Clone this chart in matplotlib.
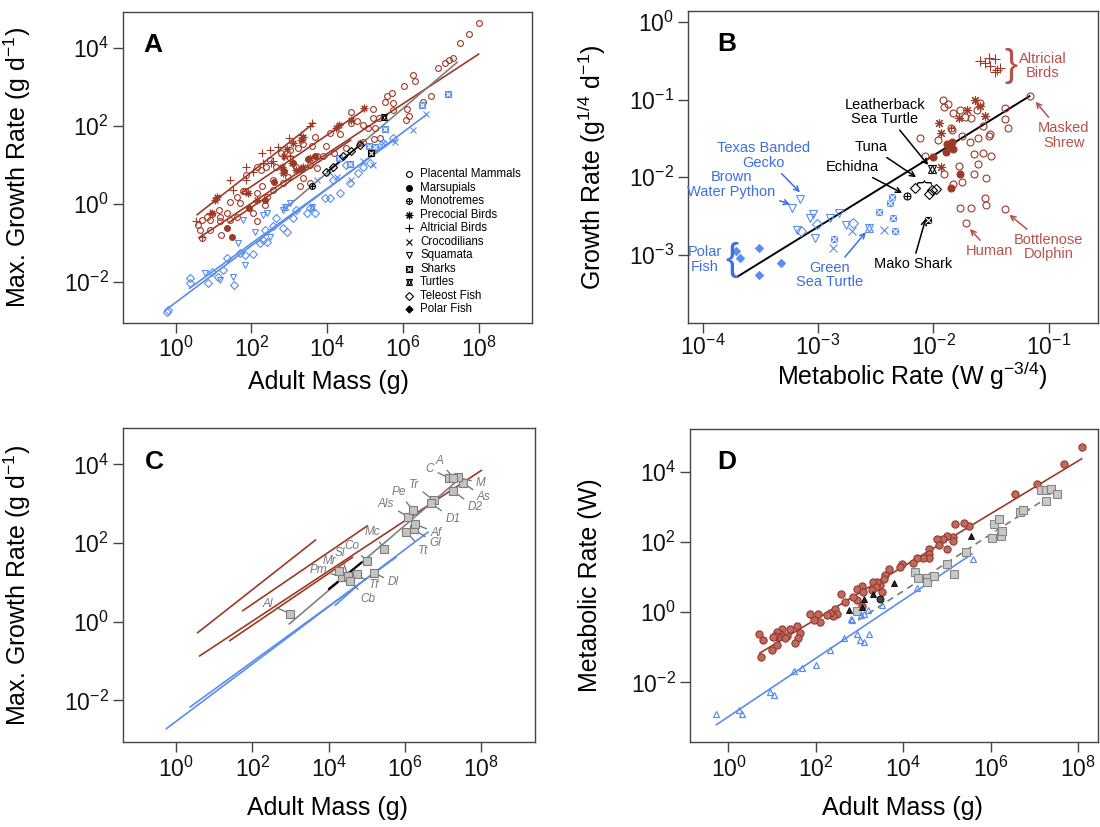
import numpy as np
import matplotlib.pyplot as plt
from matplotlib import ticker

plt.rcParams['font.family'] = ['Liberation Sans', 'DejaVu Sans']
plt.rcParams['mathtext.fontset'] = 'custom'
plt.rcParams['mathtext.rm'] = 'Liberation Sans'
plt.rcParams['mathtext.it'] = 'Liberation Sans:italic'
plt.rcParams['mathtext.bf'] = 'Liberation Sans:bold'

BROWN = '#9C3A26'
BLUE = '#5A8DEE'
BROWN_TXT = '#B5524A'
BLUE_TXT = '#3D6FE0'

# ---------------- Panel A: log10 adult mass (g), log10 max growth rate (g/d) ----------------
placental_a = [
    (8.01, 4.64), (7.75, 4.36), (7.52, 4.13), (7.33, 3.74), (7.22, 3.70), (7.11, 3.63),
    (6.93, 3.50), (6.74, 2.78), (6.52, 2.63), (6.27, 3.31), (6.33, 3.16), (6.02, 3.03),
    (5.71, 2.86), (5.57, 2.78), (5.53, 2.63), (5.74, 2.60), (5.22, 2.45), (4.62, 2.36),
    (5.22, 2.20), (5.36, 2.20), (5.74, 2.42), (6.10, 2.45), (6.17, 2.25), (6.08, 2.16),
    (4.62, 2.07), (4.95, 2.03), (4.78, 2.13), (5.07, 1.94), (5.26, 1.94), (5.39, 1.69),
    (5.24, 1.66), (4.35, 1.80), (4.07, 1.82), (3.98, 1.49), (3.68, 1.73), (3.59, 1.50),
    (3.37, 1.54), (3.24, 1.43), (3.03, 1.39), (2.77, 1.30), (2.49, 1.13), (2.38, 0.96),
    (2.25, 0.86), (2.14, 0.94), (1.87, 0.73), (1.77, 0.32), (1.61, 0.19), (1.43, 0.06),
    (1.35, -0.24), (1.15, -0.15), (1.17, -0.33), (0.95, -0.26), (0.91, -0.41), (0.82, -0.34),
    (0.69, -0.41), (0.60, -0.54), (0.64, -0.67), (0.69, -0.88), (0.91, -0.67), (1.21, -0.80),
    (1.17, -0.43), (1.43, -0.41), (1.61, -0.33), (2.15, -0.45), (2.05, -0.24), (2.35, -0.03),
    (2.40, 0.19), (2.58, 0.36), (2.84, 0.53), (2.97, 0.70), (3.37, 0.66), (3.54, 0.53),
    (3.28, 0.45), (3.72, 0.92), (3.54, 1.00), (3.19, 0.96), (3.02, 1.17), (2.66, 0.96),
    (2.58, 0.62), (2.27, 0.45), (2.14, 0.27), (1.70, 0.02), (1.83, 0.32), (4.86, 1.56),
    (4.95, 1.60), (4.51, 1.43), (4.18, 1.30), (3.90, 1.22), (3.72, 1.22),
]
marsupials_a = [
    (3.68, 1.24), (1.50, -0.84), (1.35, -0.63), (2.35, 0.10), (2.85, 0.85), (3.10, 1.05),
    (3.30, 0.90), (2.60, 0.55), (3.50, 1.15), (1.95, -0.10),
]
precocial_a = [
    (4.98, 2.46), (4.64, 2.16), (4.32, 2.03), (4.23, 1.95), (3.36, 1.73), (3.32, 1.65),
    (3.09, 1.56), (2.93, 1.41), (2.86, 1.22), (2.80, 0.96), (2.84, 0.79), (3.06, 1.05),
    (3.19, 0.87), (1.08, 0.19), (1.04, 0.10), (0.95, -0.24), (2.14, 0.10), (1.92, 0.29),
    (3.54, 1.17), (3.37, 0.96),
]
altricial_a = [
    (3.61, 2.07), (3.54, 1.99), (3.32, 1.77), (3.00, 1.69), (2.71, 1.47), (2.49, 1.39),
    (2.27, 1.30), (2.31, 1.05), (2.53, 1.05), (2.05, 0.83), (1.87, 0.96), (1.87, 0.62),
    (1.43, 0.62), (1.52, 0.36), (0.91, -0.24), (0.55, -0.45), (0.69, -0.84), (2.84, 1.22),
    (3.02, 1.22), (2.58, 1.09),
]
teleost_a = [
    (-0.24, -2.77), (-0.19, -2.72), (0.38, -1.91), (0.38, -2.04), (0.86, -2.04), (0.95, -1.74),
    (1.13, -1.87), (1.26, -1.70), (1.35, -1.40), (1.54, -2.08), (1.70, -1.27), (1.83, -1.31),
    (2.03, -1.29), (2.23, -1.01), (2.31, -0.93), (2.42, -0.97), (2.36, -0.67), (2.58, -0.58),
    (2.66, -0.37), (2.84, -0.63), (2.93, -0.71), (3.10, -0.37), (3.19, -0.15), (3.46, -0.24),
    (3.54, -0.11), (3.68, -0.24), (3.94, 0.15), (4.07, 0.15), (4.34, 0.27), (4.16, 0.62),
    (4.60, 0.53), (4.51, 1.00), (4.95, 0.96), (4.82, 0.79), (5.13, 1.05), (5.74, 1.69),
    (5.48, 1.56), (5.30, 1.43),
]
squamata_a = [
    (1.79, -0.41), (2.09, -0.71), (1.83, -1.57), (1.52, -1.87), (2.31, -0.28), (2.40, -0.24),
    (2.49, -0.84), (1.17, -1.95), (0.77, -1.78), (1.65, -1.01), (2.84, -0.15), (3.02, 0.02),
]
crocodilians_a = [
    (6.27, 1.89), (6.61, 2.31), (5.48, 1.56), (5.22, 1.00), (4.95, 1.09), (4.64, 0.62),
    (4.25, 0.70), (4.07, 0.79), (3.72, 0.62), (5.79, 1.60),
]
sharks_a = [(7.19, 2.82), (6.51, 2.53), (5.52, 1.92), (5.11, 1.49), (5.26, 1.45), (4.60, 1.03), (4.32, 1.17)]
turtles_a = [(3.59, -0.07), (2.88, -0.07)]
# named species drawn in black
leatherback_a = [(5.50, 2.22)]
mako_a = [(5.15, 1.32)]
tuna_a = [(3.98, 0.83), (4.16, 0.96), (4.42, 1.22), (4.64, 1.35), (4.86, 1.52)]
echidna_a = [(3.61, 0.47)]

# regression lines (log10 mass, log10 growth) at both ends; shared by panels A and C
brown_lines = [
    [(0.55, -0.29), (3.67, 2.09)],   # altricial birds
    [(1.73, 0.27), (5.03, 2.45)],    # precocial birds
    [(0.60, -0.88), (8.02, 3.86)],   # placental mammals
    [(1.39, -0.49), (4.64, 1.65)],   # marsupials
]
blue_lines = [
    [(-0.27, -2.73), (6.62, 2.29)],
    [(0.35, -2.18), (5.78, 1.65)],
    [(4.16, 0.41), (4.85, 1.00)],
]
gray_line = [(2.95, -0.07), (7.45, 3.65)]
black_line = [(3.99, 0.82), (4.88, 1.52)]

# ---------------- Panel B: log10 metabolic rate (W g^-3/4), log10 growth rate (g^1/4 d^-1) ----------------
altricial_b = [(-1.60, -0.51), (-1.52, -0.47), (-1.47, -0.48), (-1.55, -0.53),
               (-1.51, -0.57), (-1.45, -0.62), (-1.42, -0.60), (-1.47, -0.65)]
placental_b = [
    (-1.16, -0.95), (-1.92, -1.01), (-1.87, -1.06), (-1.91, -1.09), (-1.83, -1.17), (-1.77, -1.14),
    (-1.73, -1.22), (-1.67, -1.24), (-1.62, -1.13), (-1.60, -1.05), (-1.38, -1.11), (-1.38, -1.25),
    (-1.35, -1.37), (-1.51, -1.44), (-1.52, -1.47), (-1.57, -1.34), (-1.61, -1.50), (-1.68, -1.54),
    (-1.75, -1.47), (-1.84, -1.39), (-2.12, -1.50), (-1.96, -1.52), (-1.65, -1.70), (-1.57, -1.69),
    (-1.50, -1.73), (-1.61, -1.83), (-1.78, -1.86), (-1.65, -1.96), (-1.54, -2.01), (-1.75, -2.06),
    (-1.83, -2.09), (-1.91, -1.96), (-2.07, -1.73), (-1.77, -2.39), (-1.67, -2.40), (-1.55, -2.27),
    (-1.54, -2.36), (-1.38, -2.41), (-1.72, -2.59),
]
marsupials_b = [(-2.00, -1.74), (-1.77, -1.96), (-1.85, -2.14), (-1.88, -1.57), (-1.86, -1.61),
                (-1.83, -1.64), (-1.89, -1.67), (-1.84, -1.54)]
precocial_b = [(-1.95, -1.30), (-1.93, -1.43), (-1.64, -1.00), (-1.60, -1.08), (-1.55, -1.21),
               (-1.71, -1.14), (-1.78, -1.24), (-1.93, -1.87)]
monotreme_b = [(-1.85, -1.37)]
squamata_b = [(-3.16, -2.28), (-3.23, -2.40), (-3.04, -2.47), (-3.07, -2.52), (-2.90, -2.52),
              (-2.82, -2.46), (-2.76, -2.62), (-3.03, -2.78), (-3.18, -2.68)]
teleost_b = [(-3.01, -2.60), (-2.70, -2.59), (-3.15, -2.69)]
polar_b = [(-3.71, -2.95), (-3.68, -3.04), (-3.51, -2.91), (-3.51, -3.26), (-3.32, -3.11)]
sharks_b = [(-2.36, -2.25), (-2.38, -2.33), (-2.47, -2.45), (-2.35, -2.53), (-2.33, -2.69), (-2.86, -2.79)]
crocodilians_b = [(-2.71, -2.69), (-2.43, -2.68), (-2.87, -2.91)]
turtles_b = [(-2.56, -2.65)]
leatherback_b = [(-2.01, -1.90)]
tuna_b = [(-2.16, -2.14), (-2.04, -2.21), (-2.01, -2.17), (-1.98, -2.15)]
echidna_b = [(-2.23, -2.24)]
mako_b = [(-2.05, -2.55)]
fit_b = [(-3.71, -3.29), (-1.16, -0.95)]

# labelled species in B: text, text position, arrow tip (log10 units), colour key
labels_b = [
    ('Leatherback\nSea Turtle', (-2.42, -1.16), (-2.03, -1.87), 'k'),
    ('Tuna', (-2.54, -1.61), (-2.13, -2.02), 'k'),
    ('Echidna', (-2.70, -1.87), (-2.25, -2.22), 'k'),
    ('Mako Shark', (-2.18, -3.12), (-2.06, -2.50), 'k'),
    ('Human', (-1.51, -2.95), (-1.70, -2.64), 'brown'),
    ('Bottlenose\nDolphin', (-1.00, -2.90), (-1.36, -2.46), 'brown'),
    ('Masked\nShrew', (-0.87, -1.46), (-1.13, -1.00), 'brown'),
    ('Texas Banded\nGecko', (-3.47, -1.72), (-3.14, -2.22), 'blue'),
    ('Brown\nWater Python', (-3.75, -2.09), (-3.22, -2.36), 'blue'),
    ('Green\nSea Turtle', (-2.90, -3.26), (-2.57, -2.68), 'blue'),
]

# ---------------- Panel C: dinosaur growth rates (log10 mass, log10 growth) ----------------
dino_names = ['Al', 'Pm', 'Mr', 'Sl', 'Co', 'Mc', 'Tf', 'Cb', 'Dl', 'Als', 'Pe', 'Tt',
              'Gl', 'Af', 'Tr', 'D1', 'D2', 'As', 'M', 'C', 'A']
dino_pts = [
    (2.98, 0.21), (4.35, 1.14), (4.28, 1.30), (4.51, 1.16), (5.01, 1.54), (5.45, 1.86),
    (4.73, 1.21), (4.55, 1.04), (5.18, 1.25), (6.09, 2.67), (6.20, 2.84), (6.04, 2.29),
    (6.24, 2.35), (6.27, 2.48), (6.75, 3.09), (6.67, 3.03), (7.26, 3.33), (7.52, 3.53),
    (7.39, 3.67), (7.16, 3.65), (7.27, 3.66),
]
# label offsets from each square, in points
dino_offsets = [
    (-16, 7), (-17, 5), (-7, 7), (-6, 17), (-11, 11), (-8, 12), (13, -8), (13, -13), (14, -7),
    (-16, 9), (-10, 13), (12, -14), (15, -10), (15, -6), (-14, 11), (16, -12), (16, -12),
    (15, -10), (16, -4), (-14, 7), (-10, 12),
]

# ---------------- Panel D: log10 adult mass (g), log10 metabolic rate (W) ----------------
endotherms_d = [
    (8.09, 4.71), (7.67, 4.22), (7.06, 3.64), (6.56, 3.36), (5.51, 2.45), (5.40, 2.55),
    (5.19, 2.52), (5.13, 2.15), (5.13, 2.03), (5.00, 1.80), (5.00, 2.17), (4.92, 2.08),
    (4.78, 2.09), (4.83, 1.91), (4.58, 1.79), (4.58, 1.67), (4.60, 1.53), (4.46, 1.53),
    (4.32, 1.55), (4.23, 1.41), (3.97, 1.37), (3.93, 1.29), (3.68, 1.23), (3.59, 1.05),
    (3.55, 0.93), (3.47, 0.77), (3.51, 0.58), (3.39, 0.86), (3.32, 0.86), (3.38, 0.72),
    (3.28, 0.63), (3.05, 0.74), (2.94, 0.65), (3.07, 0.58), (2.94, 0.36), (3.05, 0.17),
    (2.86, 0.44), (2.67, 0.29), (2.58, 0.52), (2.44, 0.08), (2.48, -0.04), (2.40, -0.11),
    (2.33, -0.02), (2.25, -0.07), (2.10, -0.28), (2.06, -0.04), (1.95, -0.23), (1.87, -0.06),
    (1.64, -0.59), (1.56, -0.40), (1.60, -0.75), (1.53, -0.87), (1.41, -0.47), (1.33, -0.68),
    (1.30, -0.75), (1.22, -0.49), (1.18, -0.61), (1.11, -0.56), (1.14, -0.70), (1.07, -0.68),
    (1.01, -0.70), (1.11, -0.94), (0.99, -1.08), (0.80, -0.78), (0.70, -0.61), (0.75, -1.28),
]
black_tri_d = [(2.76, 0.06), (3.05, 0.15), (3.10, 0.37), (3.30, 0.51), (3.78, 0.82), (5.55, 2.17)]
black_dot_d = [(3.46, 0.37)]
gray_sq_d = [
    (2.95, 0.03), (4.27, 1.13), (4.35, 0.97), (4.54, 0.96), (4.54, 0.85), (4.71, 1.04),
    (5.00, 1.36), (5.16, 1.09), (5.44, 1.70), (6.03, 2.10), (6.23, 2.17), (6.26, 2.32),
    (6.09, 2.50), (6.20, 2.66), (6.67, 2.86), (6.75, 2.92), (7.15, 3.48), (7.27, 3.48),
    (7.39, 3.50), (7.51, 3.36), (7.26, 3.16),
]
ectotherms_d = [
    (-0.29, -2.89), (0.25, -2.79), (0.31, -2.89), (0.95, -2.27), (1.05, -2.36), (1.50, -1.67),
    (1.69, -1.60), (2.01, -1.50), (2.33, -1.08), (2.65, -0.75), (2.94, -0.61), (3.01, -0.78),
    (3.10, -0.85), (3.22, -0.63), (2.82, -0.23), (2.81, -0.19), (3.03, -0.09), (3.10, -0.06),
    (3.20, 0.06), (3.51, 0.20), (4.32, 0.70), (5.59, 1.50),
]
fit_d_brown = [(0.70, -1.18), (8.10, 4.38)]
fit_d_blue = [(-0.29, -3.22), (5.59, 1.67)]
fit_d_gray = [(2.97, -0.23), (7.21, 3.19)]

# marker recipes: list of overlaid (marker, filled, size factor)
MARKERS = {
    'open_circle': [('o', False, 1.0)],
    'filled_circle': [('o', True, 1.0)],
    'circle_plus': [('o', False, 1.0), ('+', False, 1.0)],
    'asterisk': [((8, 2, 0), False, 1.3)],
    'plus': [('+', False, 1.4)],
    'cross': [('x', False, 1.1)],
    'tri_down': [('v', False, 1.1)],
    'box_x': [('s', True, 0.95), ('x', False, 0.75)],
    'star_david': [('^', False, 1.1), ('v', False, 1.1)],
    'diamond': [('D', False, 0.95)],
    'filled_diamond': [('D', True, 0.85)],
}


def to_lin(p):
    a = np.asarray(p, dtype=float)
    return 10 ** a[:, 0], 10 ** a[:, 1]


def draw(ax, p, kind, color, ms=4.2, zorder=3):
    x, y = to_lin(p)
    for mk, filled, f in MARKERS[kind]:
        fc = color if filled else 'none'
        # the cross inside a shark box is knocked out in white
        c = 'white' if (mk == 'x' and kind == 'box_x') else color
        ax.plot(x, y, ls='none', marker=mk, ms=ms * f, mfc=fc, mec=c, mew=0.8, zorder=zorder)


def draw_line(ax, seg, color, lw=1.2, **kw):
    x, y = to_lin(seg)
    ax.plot(x, y, color=color, lw=lw, solid_capstyle='butt', **kw)


def style_axes(ax, xlim, ylim, xticks, yticks):
    ax.set_xscale('log')
    ax.set_yscale('log')
    ax.set_xlim(10 ** xlim[0], 10 ** xlim[1])
    ax.set_ylim(10 ** ylim[0], 10 ** ylim[1])
    ax.xaxis.set_major_locator(ticker.FixedLocator([10.0 ** t for t in xticks]))
    ax.yaxis.set_major_locator(ticker.FixedLocator([10.0 ** t for t in yticks]))
    ax.xaxis.set_minor_locator(ticker.NullLocator())
    ax.yaxis.set_minor_locator(ticker.NullLocator())
    ax.xaxis.set_major_formatter(ticker.LogFormatterMathtext())
    ax.yaxis.set_major_formatter(ticker.LogFormatterMathtext())
    ax.tick_params(direction='out', length=7, width=1, color='#444444',
                   labelsize=16.5, pad=3, labelcolor='#111111')
    for s in ax.spines.values():
        s.set_color('#444444')
        s.set_linewidth(1)


fig = plt.figure(figsize=(11, 8.27), dpi=100)
axA = fig.add_axes([0.1115, 0.6094, 0.3721, 0.3761])
axB = fig.add_axes([0.6252, 0.6091, 0.3733, 0.3776])
axC = fig.add_axes([0.1115, 0.1022, 0.3749, 0.3799])
axD = fig.add_axes([0.6273, 0.1024, 0.3709, 0.3789])

# --------------------- Panel A --------------------- #
style_axes(axA, (-1.40, 9.41), (-3.06, 4.93), [0, 2, 4, 6, 8], [-2, 0, 2, 4])
for seg in brown_lines:
    draw_line(axA, seg, BROWN)
for seg in blue_lines[:2]:
    draw_line(axA, seg, BLUE)
draw_line(axA, gray_line, '#808080')
draw_line(axA, black_line, 'black')

draw(axA, placental_a, 'open_circle', BROWN)
draw(axA, marsupials_a, 'filled_circle', BROWN)
draw(axA, precocial_a, 'asterisk', BROWN)
draw(axA, altricial_a, 'plus', BROWN)
draw(axA, teleost_a, 'diamond', BLUE)
draw(axA, squamata_a, 'tri_down', BLUE)
draw(axA, crocodilians_a, 'cross', BLUE)
draw(axA, sharks_a, 'box_x', BLUE)
draw(axA, turtles_a, 'star_david', BLUE)
draw(axA, leatherback_a, 'star_david', 'k', zorder=4)
draw(axA, mako_a, 'box_x', 'k', zorder=4)
draw(axA, tuna_a, 'diamond', 'k', zorder=4)
draw(axA, echidna_a, 'circle_plus', 'k', zorder=4)

legend_a = [
    ('Placental Mammals', 'open_circle'), ('Marsupials', 'filled_circle'),
    ('Monotremes', 'circle_plus'), ('Precocial Birds', 'asterisk'),
    ('Altricial Birds', 'plus'), ('Crocodilians', 'cross'), ('Squamata', 'tri_down'),
    ('Sharks', 'box_x'), ('Turtles', 'star_david'), ('Teleost Fish', 'diamond'),
    ('Polar Fish', 'filled_diamond'),
]
for i, (name, kind) in enumerate(legend_a):
    yy = 0.479 - i * 0.0434
    for mk, filled, f in MARKERS[kind]:
        c = 'white' if (mk == 'x' and kind == 'box_x') else 'k'
        axA.plot([0.70], [yy], transform=axA.transAxes, ls='none', marker=mk,
                 ms=4.2 * f, mfc='k' if filled else 'none', mec=c, mew=0.8, clip_on=False)
    axA.text(0.727, yy, name, transform=axA.transAxes, fontsize=8.3, va='center', ha='left')

axA.text(0.05, 0.872, 'A', transform=axA.transAxes, fontsize=19, fontweight='bold')
axA.set_xlabel('Adult Mass (g)', fontsize=18)
axA.set_ylabel('Max. Growth Rate (g d$^{\\mathregular{-1}}$)', fontsize=18)
axA.xaxis.set_label_coords(0.502, -0.15)
axA.yaxis.set_label_coords(-0.219, 0.5)

# --------------------- Panel B --------------------- #
style_axes(axB, (-4.13, -0.57), (-3.88, 0.14), [-4, -3, -2, -1], [-3, -2, -1, 0])
axB.tick_params(axis='x', pad=1.5)
draw_line(axB, fit_b, 'black', lw=1.4)
draw(axB, altricial_b, 'plus', BROWN, ms=5)
draw(axB, placental_b, 'open_circle', BROWN, ms=5)
draw(axB, marsupials_b, 'filled_circle', BROWN, ms=5)
draw(axB, precocial_b, 'asterisk', BROWN, ms=5)
draw(axB, monotreme_b, 'circle_plus', BROWN, ms=5)
draw(axB, squamata_b, 'tri_down', BLUE, ms=5)
draw(axB, teleost_b, 'diamond', BLUE, ms=5)
draw(axB, polar_b, 'filled_diamond', BLUE, ms=5)
draw(axB, sharks_b, 'box_x', BLUE, ms=5)
draw(axB, crocodilians_b, 'cross', BLUE, ms=5)
draw(axB, turtles_b, 'star_david', BLUE, ms=5)
draw(axB, leatherback_b, 'star_david', 'k', ms=5, zorder=4)
draw(axB, tuna_b, 'diamond', 'k', ms=5, zorder=4)
draw(axB, echidna_b, 'circle_plus', 'k', ms=5, zorder=4)
draw(axB, mako_b, 'box_x', 'k', ms=5, zorder=4)

col = {'k': 'black', 'brown': BROWN_TXT, 'blue': BLUE_TXT}
for text, (tx, ty), (px, py), c in labels_b:
    axB.annotate(text, xy=(10 ** px, 10 ** py), xytext=(10 ** tx, 10 ** ty),
                 ha='center', va='center', fontsize=10.5, color=col[c], linespacing=1.05,
                 arrowprops=dict(arrowstyle='->', color=col[c], lw=1.1,
                                 shrinkA=1, shrinkB=2, mutation_scale=9))
axB.text(10 ** -1.05, 10 ** -0.57, 'Altricial\nBirds', color=BROWN_TXT, fontsize=10.5,
         ha='center', va='center', linespacing=1.05)
axB.text(10 ** -1.33, 10 ** -0.57, '}', color=BROWN_TXT, fontsize=28,
         ha='center', va='center', fontweight='light')
axB.text(10 ** -3.985, 10 ** -3.06, 'Polar\nFish', color=BLUE_TXT, fontsize=10.5,
         ha='center', va='center', linespacing=1.05)
axB.text(10 ** -3.75, 10 ** -3.06, '{', color=BLUE_TXT, fontsize=28,
         ha='center', va='center', fontweight='light')
axB.text(10 ** -2.09, 10 ** -2.06, '{', color='black', fontsize=12, rotation=-90,
         ha='center', va='center')

axB.text(0.072, 0.873, 'B', transform=axB.transAxes, fontsize=19, fontweight='bold')
axB.set_xlabel('Metabolic Rate (W g$^{\\mathregular{-3/4}}$)', fontsize=18)
axB.set_ylabel('Growth Rate (g$^{\\mathregular{1/4}}$ d$^{\\mathregular{-1}}$)', fontsize=18)
axB.xaxis.set_label_coords(0.546, -0.118)
axB.yaxis.set_label_coords(-0.194, 0.5)

# --------------------- Panel C --------------------- #
style_axes(axC, (-1.40, 9.41), (-3.07, 4.92), [0, 2, 4, 6, 8], [-2, 0, 2, 4])
for seg in brown_lines:
    draw_line(axC, seg, BROWN)
for seg in blue_lines:
    draw_line(axC, seg, BLUE)
draw_line(axC, gray_line, '#808080')
draw_line(axC, black_line, 'black', lw=1.6)

dx, dy = to_lin(dino_pts)
for name, x, y, (ox, oy) in zip(dino_names, dx, dy, dino_offsets):
    axC.annotate(name, xy=(x, y), xytext=(ox, oy), textcoords='offset points',
                 ha='center', va='center', fontsize=8.5, style='italic', color='#7A7A7A',
                 arrowprops=dict(arrowstyle='-', color='#6E6E6E', lw=0.9,
                                 shrinkA=1, shrinkB=0))
axC.plot(dx, dy, ls='none', marker='s', ms=5.6, mfc='#C3C3C3', mec='#7C7C7C', mew=0.8, zorder=4)

axC.text(0.054, 0.870, 'C', transform=axC.transAxes, fontsize=19, fontweight='bold')
axC.set_xlabel('Adult Mass (g)', fontsize=18)
axC.set_ylabel('Max. Growth Rate (g d$^{\\mathregular{-1}}$)', fontsize=18)
axC.xaxis.set_label_coords(0.497, -0.17)
axC.yaxis.set_label_coords(-0.218, 0.5)

# --------------------- Panel D --------------------- #
style_axes(axD, (-0.88, 8.46), (-3.71, 5.22), [0, 2, 4, 6, 8], [-2, 0, 2, 4])
draw_line(axD, fit_d_brown, BROWN)
draw_line(axD, fit_d_blue, BLUE)
draw_line(axD, fit_d_gray, '#7A7A7A', dashes=(4, 3))
ex, ey = to_lin(endotherms_d)
axD.plot(ex, ey, ls='none', marker='o', ms=5.2, mfc='#C4685E', mec='#8E3B2F', mew=0.8, zorder=3)
gx, gy = to_lin(gray_sq_d)
axD.plot(gx, gy, ls='none', marker='s', ms=5.6, mfc='#C8C8C8', mec='#858585', mew=0.8, zorder=3)
bx, by = to_lin(ectotherms_d)
axD.plot(bx, by, ls='none', marker='^', ms=5, mfc='none', mec=BLUE, mew=0.9, zorder=3)
kx, ky = to_lin(black_tri_d)
axD.plot(kx, ky, ls='none', marker='^', ms=5, mfc='#222222', mec='black', mew=0.6, zorder=4)
cx, cy = to_lin(black_dot_d)
axD.plot(cx, cy, ls='none', marker='o', ms=5, mfc='#444444', mec='black', mew=0.6, zorder=4)

axD.text(0.067, 0.871, 'D', transform=axD.transAxes, fontsize=19, fontweight='bold')
axD.set_xlabel('Adult Mass (g)', fontsize=18)
axD.set_ylabel('Metabolic Rate (W)', fontsize=18)
axD.xaxis.set_label_coords(0.52, -0.17)
axD.yaxis.set_label_coords(-0.216, 0.5)

fig.savefig('out.png', dpi=100)
